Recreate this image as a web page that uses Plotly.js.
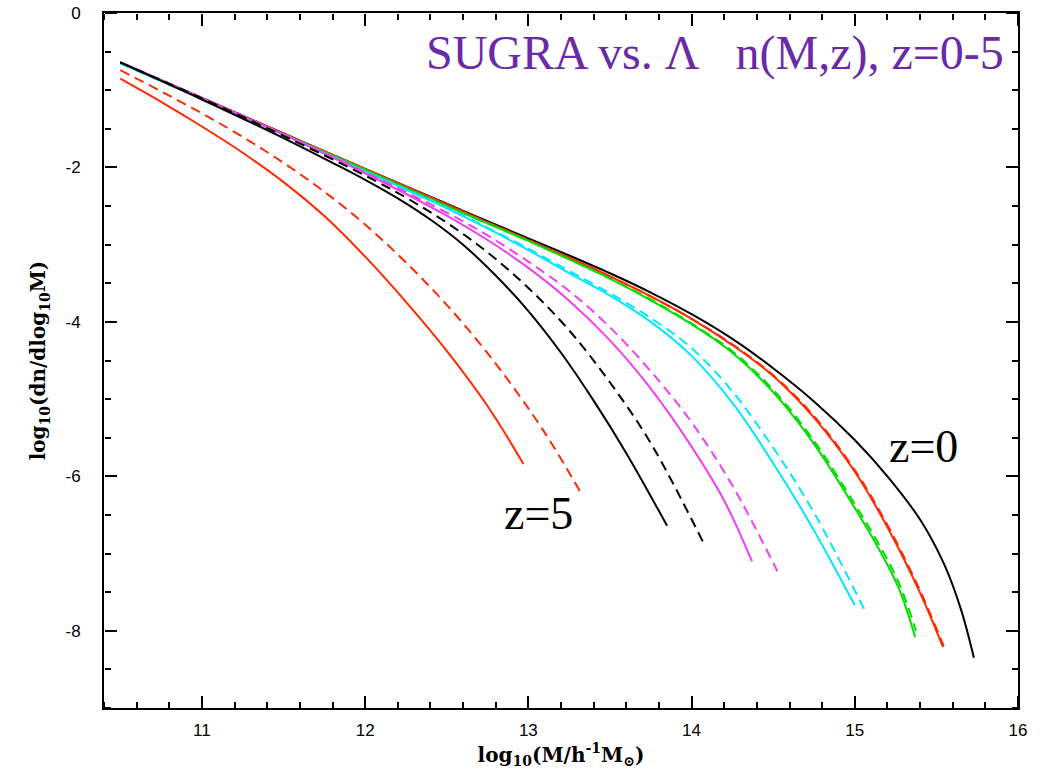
<!DOCTYPE html>
<html>
<head>
<meta charset="utf-8">
<script src="https://cdn.plot.ly/plotly-3.0.1.min.js"></script>
<style>html,body{margin:0;padding:0;background:#fff;}#chart{width:1044px;height:774px;background:#fff;}</style>
</head>
<body>
<div id="chart"></div>
<script>
// z=5 (red)
const r5_x  = [10.5, 10.75, 11.0, 11.25, 11.5, 11.75, 12.0, 12.25, 12.5, 12.75, 12.97];
const r5_y  = [-0.85, -1.15, -1.47, -1.81, -2.19, -2.63, -3.155, -3.74, -4.375, -5.09, -5.84];
const r5d_x = [10.5, 10.75, 11.0, 11.25, 11.5, 11.75, 12.0, 12.25, 12.5, 12.75, 13.0, 13.15, 13.315];
const r5d_y = [-0.74, -1.015, -1.30, -1.605, -1.94, -2.315, -2.74, -3.23, -3.78, -4.405, -5.12, -5.60, -6.19];
// z=4 (black)
const k4_x  = [10.5, 11.0, 11.5, 11.8, 12.0, 12.2, 12.41, 12.6, 12.8, 13.0, 13.2, 13.4, 13.6, 13.85];
const k4_y  = [-0.64, -1.12, -1.62, -1.94, -2.16, -2.40, -2.69, -3.00, -3.40, -3.86, -4.40, -5.02, -5.70, -6.64];
const k4d_x = [10.5, 11, 11.5, 12, 12.25, 12.5, 12.75, 13.0, 13.25, 13.5, 13.75, 14.07];
const k4d_y = [-0.64, -1.105, -1.59, -2.105, -2.39, -2.715, -3.10, -3.56, -4.11, -4.785, -5.57, -6.85];
// z=3 (magenta)
const m3_x  = [10.5, 11, 11.5, 12, 12.5, 12.75, 13.0, 13.25, 13.5, 13.75, 14.0, 14.2, 14.37];
const m3_y  = [-0.64, -1.10, -1.575, -2.075, -2.625, -2.94, -3.30, -3.725, -4.24, -4.865, -5.615, -6.315, -7.10];
const m3d_x = [10.5, 11, 11.5, 12, 12.5, 12.75, 13.0, 13.25, 13.5, 13.75, 14.0, 14.25, 14.526];
const m3d_y = [-0.64, -1.10, -1.57, -2.06, -2.585, -2.88, -3.22, -3.60, -4.07, -4.64, -5.30, -6.12, -7.23];
// z=2 (cyan)
const c2_x  = [10.5, 11, 11.5, 12, 12.5, 12.75, 13.0, 13.25, 13.5, 13.75, 14.0, 14.25, 14.5, 14.75, 15.0];
const c2_y  = [-0.65, -1.11, -1.575, -2.05, -2.53, -2.79, -3.07, -3.37, -3.66, -4.00, -4.44, -5.05, -5.83, -6.70, -7.67];
const c2d_x = [10.5, 11, 11.5, 12, 12.5, 12.75, 13.0, 13.25, 13.5, 13.75, 14.0, 14.25, 14.5, 14.75, 15.06];
const c2d_y = [-0.65, -1.11, -1.575, -2.05, -2.52, -2.78, -3.05, -3.34, -3.63, -3.95, -4.34, -4.90, -5.63, -6.47, -7.73];
// z=1 (green)
const g1_x  = [10.5, 11, 11.5, 12, 12.5, 13, 13.25, 13.5, 13.75, 14, 14.25, 14.5, 14.75, 15, 15.15, 15.27, 15.37];
const g1_y  = [-0.65, -1.11, -1.57, -2.03, -2.50, -2.95, -3.19, -3.44, -3.72, -4.03, -4.40, -4.91, -5.58, -6.41, -6.95, -7.45, -8.08];
const g1d_x = [10.5, 11, 11.5, 12, 12.5, 13, 13.25, 13.5, 13.75, 14, 14.25, 14.5, 14.75, 15, 15.15, 15.27, 15.375];
const g1d_y = [-0.65, -1.11, -1.57, -2.03, -2.50, -2.95, -3.19, -3.44, -3.71, -4.02, -4.38, -4.88, -5.54, -6.36, -6.89, -7.38, -8.00];
// low z (red)
const r0_x  = [10.5, 11, 11.5, 12, 12.5, 13.0, 13.25, 13.5, 13.75, 14.0, 14.25, 14.5, 14.75, 15.0, 15.2, 15.4, 15.54];
const r0_y  = [-0.64, -1.10, -1.56, -2.02, -2.48, -2.94, -3.17, -3.41, -3.67, -3.96, -4.30, -4.70, -5.24, -5.94, -6.66, -7.51, -8.21];
const r0d_x = [10.5, 11, 11.5, 12, 12.5, 13.0, 13.25, 13.5, 13.75, 14.0, 14.25, 14.5, 14.75, 15.0, 15.2, 15.4, 15.545];
const r0d_y = [-0.64, -1.10, -1.56, -2.02, -2.48, -2.94, -3.17, -3.41, -3.67, -3.96, -4.29, -4.69, -5.22, -5.92, -6.63, -7.48, -8.20];
// z=0 (black)
const k0_x  = [10.5, 11, 11.5, 12, 12.5, 13.0, 13.25, 13.5, 13.75, 14.0, 14.25, 14.5, 14.75, 15.0, 15.2, 15.4, 15.55, 15.65, 15.73];
const k0_y  = [-0.64, -1.10, -1.56, -2.02, -2.47, -2.92, -3.14, -3.37, -3.62, -3.90, -4.22, -4.60, -5.03, -5.53, -6.00, -6.56, -7.15, -7.72, -8.35];

// axes
const xRange = [10.4, 16];
const yRange = [-9, 0];
const xMajorTicks = [11, 12, 13, 14, 15, 16];
const yMajorTicks = [0, -2, -4, -6, -8];

const RED = '#ff2a00', BLACK = '#000000', MAG = '#f040f0', CYAN = '#00e8ff', GREEN = '#00dd00';
const DASH = '10px,6px';
function tr(x, y, color, dashed) {
  return {x: x, y: y, type: 'scatter', mode: 'lines', hoverinfo: 'skip',
    line: {color: color, width: 2, dash: dashed ? DASH : 'solid', shape: 'spline', smoothing: 1.0}};
}
function empty(xa, ya) {
  return {x: [], y: [], type: 'scatter', mode: 'lines', xaxis: xa, yaxis: ya, hoverinfo: 'skip', showlegend: false};
}
const data = [
  tr(k0_x, k0_y, BLACK, false),
  tr(r0_x, r0_y, RED, false),
  tr(r0d_x, r0d_y, RED, true),
  tr(g1_x, g1_y, GREEN, false),
  tr(g1d_x, g1d_y, GREEN, true),
  tr(c2_x, c2_y, CYAN, false),
  tr(c2d_x, c2d_y, CYAN, true),
  tr(m3_x, m3_y, MAG, false),
  tr(m3d_x, m3d_y, MAG, true),
  tr(k4_x, k4_y, BLACK, false),
  tr(k4d_x, k4d_y, BLACK, true),
  tr(r5_x, r5_y, RED, false),
  tr(r5d_x, r5d_y, RED, true),
  empty('x2', 'y'), empty('x3', 'y'), empty('x', 'y2'), empty('x', 'y3')
];

const tickFont = {family: 'Liberation Sans, Arial, sans-serif', size: 17, color: '#000'};
const titleFont = {family: 'DejaVu Serif, Liberation Serif, serif', size: 20, color: '#000', weight: 'bold'};

// tick-only overlay axes sitting on the frame, ticks pointing into the plot
function xTickAxis(pos, side) {
  return {range: xRange, overlaying: 'x', anchor: 'free', position: pos, side: side,
    tickmode: 'array', tickvals: xMajorTicks, ticks: 'outside', ticklen: 12, tickwidth: 2, tickcolor: '#000',
    minor: {tickmode: 'linear', tick0: 0, dtick: 0.2, ticks: 'outside', ticklen: 6, tickwidth: 2, tickcolor: '#000', showgrid: false},
    showticklabels: false, showline: false, showgrid: false, zeroline: false, automargin: false, fixedrange: true};
}
function yTickAxis(pos, side) {
  return {range: yRange, overlaying: 'y', anchor: 'free', position: pos, side: side,
    tickmode: 'array', tickvals: yMajorTicks, ticks: 'outside', ticklen: 12, tickwidth: 2, tickcolor: '#000',
    minor: {tickmode: 'linear', tick0: 0, dtick: 0.5, ticks: 'outside', ticklen: 6, tickwidth: 2, tickcolor: '#000', showgrid: false},
    showticklabels: false, showline: false, showgrid: false, zeroline: false, automargin: false, fixedrange: true};
}

const layout = {
  width: 1044, height: 774,
  margin: {l: 104, r: 26, t: 13, b: 66},
  paper_bgcolor: '#ffffff', plot_bgcolor: 'rgba(0,0,0,0)',
  showlegend: false,
  xaxis: {
    range: xRange, tickmode: 'array', tickvals: xMajorTicks, ticktext: xMajorTicks.map(String),
    showgrid: false, zeroline: false, showline: true, linecolor: '#000', linewidth: 2, mirror: true,
    ticks: '', tickfont: tickFont, ticklabelstandoff: 6, automargin: false,
    title: {text: 'log<sub>10</sub>(M/h<sup>-1</sup>M<sub>⊙</sub>)', standoff: 4, font: titleFont}
  },
  yaxis: {
    range: yRange, tickmode: 'array', tickvals: yMajorTicks, ticktext: yMajorTicks.map(String),
    showgrid: false, zeroline: false, showline: true, linecolor: '#000', linewidth: 2, mirror: true,
    ticks: '', tickfont: tickFont, ticklabelstandoff: 18, automargin: false,
    title: {text: 'log<sub>10</sub>(dn/dlog<sub>10</sub>M)', standoff: 14, font: titleFont}
  },
  xaxis2: xTickAxis(0, 'top'),
  xaxis3: xTickAxis(1, 'bottom'),
  yaxis2: yTickAxis(0, 'right'),
  yaxis3: yTickAxis(1, 'left'),
  annotations: [
    {text: 'SUGRA vs. Λ&nbsp;&nbsp;&nbsp;n(M,z), z=0-5', xref: 'paper', yref: 'paper', x: 0.987, y: 0.942,
     xanchor: 'right', yanchor: 'middle', showarrow: false,
     font: {family: 'Liberation Serif, Times New Roman, serif', size: 48, color: '#6a2aa8'}},
    {text: 'z=0', xref: 'x', yref: 'y', x: 15.42, y: -5.61, showarrow: false, xanchor: 'center', yanchor: 'middle',
     font: {family: 'Liberation Serif, Times New Roman, serif', size: 46, color: '#000'}},
    {text: 'z=5', xref: 'x', yref: 'y', x: 13.065, y: -6.48, showarrow: false, xanchor: 'center', yanchor: 'middle',
     font: {family: 'Liberation Serif, Times New Roman, serif', size: 46, color: '#000'}}
  ]
};
Plotly.newPlot('chart', data, layout, {staticPlot: true, displayModeBar: false});
</script>
</body>
</html>
